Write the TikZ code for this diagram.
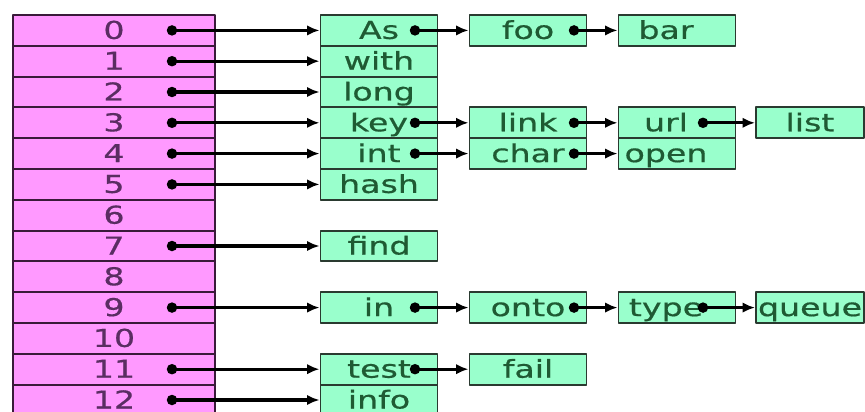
\documentclass[tikz,border=0pt]{standalone}
\usepackage{fontspec}
\setmainfont{DejaVu Sans}[FakeStretch=1.35,FakeBold=0.6]
\usetikzlibrary{arrows.meta}
\definecolor{slotpink}{HTML}{FF99FF}
\definecolor{slotedge}{HTML}{3A1A3A}
\definecolor{slottext}{HTML}{5A2D62}
\definecolor{entrygreen}{HTML}{99FFCC}
\definecolor{entryedge}{HTML}{2A3A30}
\definecolor{entrytext}{HTML}{1F5A33}
\begin{document}
\begin{tikzpicture}[x=0.02cm,y=-0.02cm,line join=round,font=\fontsize{14}{16}\selectfont,
  slot/.style={draw=slotedge,line width=1.1pt,fill=slotpink,text=slottext,
    minimum width=4.04cm,minimum height=0.616cm,inner sep=0pt,text height=0.44cm,text depth=0.1cm},
  entry/.style={draw=entryedge,line width=1.1pt,fill=entrygreen,text=entrytext,
    minimum width=2.34cm,minimum height=0.616cm,inner sep=0pt,text height=0.44cm,text depth=0.1cm},
  shifted/.style={execute at end node={\hspace{0.44cm}}},
  dot/.style={circle,fill=black,inner sep=0pt,minimum size=0.21cm},
  ptr/.style={line width=1.9pt,-{Latex[length=0.25cm,width=0.21cm]}}]
  \useasboundingbox (0,0) rectangle (865,412);
  \def\rowy(#1){15+30.8*(#1+0.5)}   % centre of row #1
% ================= hash table =================
  \foreach \i in {0,...,12}
    \node[slot] (s\i) at (114,{\rowy(\i)}) {\i};
  \foreach \i in {0,1,2,3,4,5,7,9,11,12}
    \node[dot] (p\i) at (172,{\rowy(\i)}) {};
% ================= chains =================
  \foreach \i/\w in {0/As,1/with,2/long,3/key,4/int,5/hash,7/find,9/in,11/test,12/info}{
    \node[entry] (a\i) at (379,{\rowy(\i)}) {\w};
    \draw[ptr] (p\i.center) -- (a\i.west);}
  \foreach \i/\w in {0/foo,3/link,4/char,9/onto,11/fail}{
    \node[entry] (b\i) at (528,{\rowy(\i)}) {\w};
    \node[dot] (q\i) at (415,{\rowy(\i)}) {};
    \draw[ptr] (q\i.center) -- (b\i.west);}
  \foreach \i/\w in {0/bar,3/url,4/open,9/type}{
    \node[entry,shifted] (c\i) at (677,{\rowy(\i)}) {\w};
    \node[dot] (r\i) at (574,{\rowy(\i)}) {};
    \draw[ptr] (r\i.center) -- (c\i.west);}
  % last column runs off the right edge
  \foreach \i/\w in {3/list,9/queue}{
    \node[entry,minimum width=2.16cm] (d\i) at (810,{\rowy(\i)}) {\w};
    \node[dot] (t\i) at (703,{\rowy(\i)}) {};
    \draw[ptr] (t\i.center) -- (d\i.west);}
\end{tikzpicture}
\end{document}
